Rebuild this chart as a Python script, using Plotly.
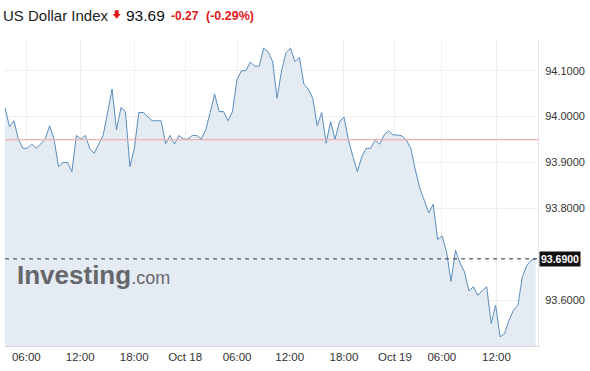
import plotly.graph_objects as go

# ---- data (30-minute samples, index based x axis) ----
values = [
    94.020, 93.978, 93.991, 93.951, 93.931, 93.931, 93.940, 93.931, 93.940, 93.951,
    93.980, 93.951, 93.891, 93.900, 93.900, 93.880, 93.959, 93.951, 93.959, 93.931,
    93.920, 93.940, 93.959, 94.009, 94.060, 93.971, 94.020, 94.011, 93.891, 93.931,
    94.009, 94.009, 94.001, 93.991, 93.991, 93.991, 93.941, 93.959, 93.940, 93.959,
    93.951, 93.951, 93.959, 93.959, 93.951, 93.971, 94.009, 94.049, 94.011, 94.011,
    93.991, 94.011, 94.080, 94.100, 94.100, 94.119, 94.110, 94.110, 94.149, 94.141,
    94.120, 94.040, 94.100, 94.139, 94.149, 94.120, 94.129, 94.071, 94.060, 94.040,
    93.980, 94.009, 93.942, 93.989, 93.951, 93.989, 93.999, 93.949, 93.913, 93.880,
    93.913, 93.931, 93.931, 93.949, 93.940, 93.960, 93.969, 93.960, 93.960, 93.958,
    93.949, 93.930, 93.884, 93.844, 93.818, 93.790, 93.809, 93.732, 93.740, 93.705,
    93.641, 93.709, 93.681, 93.662, 93.620, 93.629, 93.611, 93.620, 93.629, 93.549,
    93.589, 93.520, 93.527, 93.556, 93.578, 93.589, 93.651, 93.676, 93.687, 93.690,
]
x_index = list(range(len(values)))

tick_positions = [4.77, 16.86, 28.96, 40.38, 52.03, 63.83, 75.99, 87.41, 97.94, 110.19]
tick_labels = ["06:00", "12:00", "18:00", "Oct 18", "06:00", "12:00", "18:00", "Oct 19", "06:00", "12:00"]

y_ticks = [93.6, 93.8, 93.9, 94.0, 94.1]
prev_close = 93.95
title_name = "US Dollar Index"
last_price = "93.69"
change = "-0.27"
change_pct = "(-0.29%)"

# ---- layout geometry ----
W, H = 590, 371
ML, MR, MT, MB = 5, 52, 40, 25
PW, PH = W - ML - MR, H - MT - MB


def px(xp):
    return (xp - ML) / PW


def py(yp):
    return (H - MB - yp) / PH


FONT = "Liberation Sans, Arial, sans-serif"
RED = "#e0191b"
line_color = "#5a8dbd"
fill_color = "rgba(223,232,241,0.85)"

fig = go.Figure()
fig.add_trace(go.Scatter(
    x=x_index, y=values, mode="lines",
    line=dict(color=line_color, width=1),
    fill="tozeroy", fillcolor=fill_color,
    hoverinfo="skip", showlegend=False,
))

last = values[-1]

# down-arrow icon next to the title (decoration, in pixel-derived paper coords)
ax0, ax1, ay0, ay1 = 112.7, 120.7, 10.3, 18.7
amid = (ax0 + ax1) / 2
arrow_pts = [
    (amid - 2, ay0), (amid + 2, ay0), (amid + 2, ay0 + 3.6), (ax1, ay0 + 3.6),
    (amid, ay1), (ax0, ay0 + 3.6), (amid - 2, ay0 + 3.6),
]
arrow_path = "M " + " L ".join(f"{px(a):.5f},{py(b):.5f}" for a, b in arrow_pts) + " Z"

shapes = [
    dict(type="line", xref="paper", x0=0, x1=1, yref="y", y0=prev_close, y1=prev_close,
         line=dict(color="#f2b0b0", width=1.2), layer="above"),
    dict(type="line", xref="paper", x0=0, x1=1, yref="y", y0=last, y1=last,
         line=dict(color="#333333", width=1, dash="4px,4px"), layer="above"),
    dict(type="path", xref="paper", yref="paper", path=arrow_path,
         fillcolor=RED, line=dict(width=0)),
]

annotations = [
    dict(xref="paper", yref="paper", x=px(1), y=py(15), xanchor="left", yanchor="middle",
         text=title_name, showarrow=False, font=dict(family=FONT, size=15, color="#222222")),
    dict(xref="paper", yref="paper", x=px(124), y=py(15), xanchor="left", yanchor="middle",
         text=last_price, showarrow=False, font=dict(family=FONT, size=15.5, color="#111111")),
    dict(xref="paper", yref="paper", x=px(168.5), y=py(15.5), xanchor="left", yanchor="middle",
         text=f"<b>{change}</b>", showarrow=False, font=dict(family=FONT, size=12, color=RED)),
    dict(xref="paper", yref="paper", x=px(203.5), y=py(15.5), xanchor="left", yanchor="middle",
         text=f"<b>{change_pct}</b>", showarrow=False, font=dict(family=FONT, size=12.5, color=RED)),
    # watermark
    dict(xref="paper", yref="paper", x=px(15), y=py(275), xanchor="left", yanchor="middle",
         text="<b>Investing</b><span style='font-size:18px'>.com</span>", showarrow=False,
         font=dict(family=FONT, size=26, color="#66676a")),
    # last price label
    dict(xref="paper", yref="y", x=1, y=last, xanchor="left", yanchor="middle", xshift=1,
         text=f"<b>{last:.4f}</b>", showarrow=False, bgcolor="#111111",
         borderpad=1, font=dict(family=FONT, size=10.5, color="#ffffff")),
]

fig.update_layout(
    width=W, height=H,
    margin=dict(l=ML, r=MR, t=MT, b=MB),
    paper_bgcolor="white", plot_bgcolor="white",
    font=dict(family=FONT, size=11, color="#333333"),
    shapes=shapes, annotations=annotations,
    xaxis=dict(
        range=[0, len(values) - 0.5], tickmode="array",
        tickvals=tick_positions, ticktext=tick_labels,
        showgrid=True, gridcolor="#efefef", gridwidth=1,
        showline=True, linecolor="#d8d8d8", linewidth=1, mirror=False,
        ticks="", tickfont=dict(size=11.5, color="#333333"), zeroline=False,
    ),
    yaxis=dict(
        range=[93.5, 94.167], side="right", tickmode="array",
        tickvals=y_ticks, tickformat=".4f",
        showgrid=True, gridcolor="#efefef", gridwidth=1,
        showline=True, linecolor="#e3e3e3", linewidth=1,
        ticks="", ticklabelstandoff=4, tickfont=dict(size=11, color="#333333"),
        zeroline=False,
    ),
)

fig.write_html("out.html")
